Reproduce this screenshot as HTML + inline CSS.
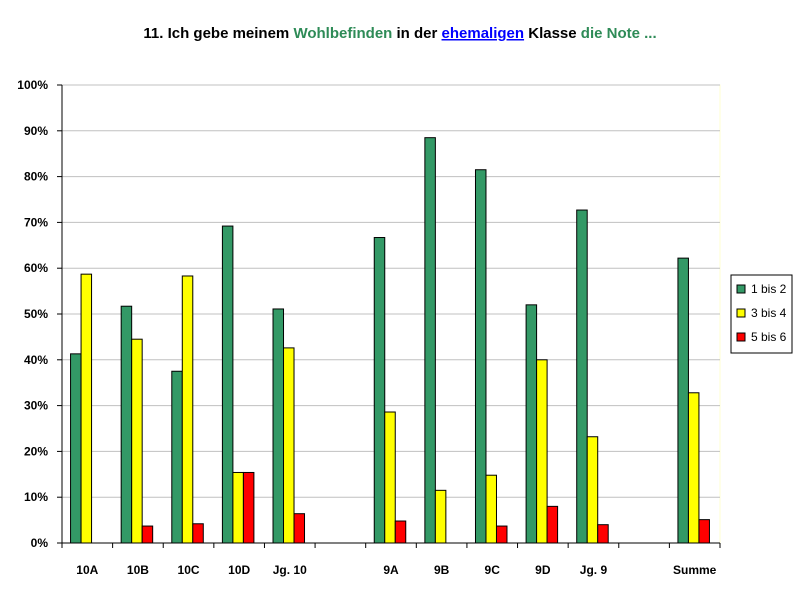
<!DOCTYPE html>
<html><head><meta charset="utf-8"><style>
body{margin:0;background:#fff;}
svg text{font-family:"Liberation Sans",Arial,sans-serif;font-weight:bold;}
</style></head><body>
<svg id="chart" width="800" height="600" xmlns="http://www.w3.org/2000/svg">
<text x="400" y="38" text-anchor="middle" font-size="15"><tspan fill="#000">11. Ich gebe meinem </tspan><tspan fill="#2e8b57">Wohlbefinden</tspan><tspan fill="#000"> in der </tspan><tspan fill="#0000ff" text-decoration="underline">ehemaligen</tspan><tspan fill="#000"> Klasse </tspan><tspan fill="#2e8b57">die Note ...</tspan></text>
<rect x="62" y="85" width="658" height="458" fill="#fff" stroke="#ffffd0"/>
<g id="grid"></g><g id="bars"></g><g id="axes"></g>
<g>
<rect x="731" y="275" width="61" height="78" fill="#fff" stroke="#000"/>
<rect x="737" y="285" width="8" height="8" fill="#339966" stroke="#000"/>
<text x="751" y="293" font-size="12" font-weight="normal" style="font-weight:normal">1 bis 2</text>
<rect x="737" y="309" width="8" height="8" fill="#ffff00" stroke="#000"/>
<text x="751" y="317" font-size="12" style="font-weight:normal">3 bis 4</text>
<rect x="737" y="333" width="8" height="8" fill="#ff0000" stroke="#000"/>
<text x="751" y="341" font-size="12" style="font-weight:normal">5 bis 6</text>
</g>
</svg>
<script>
const categories=["10A","10B","10C","10D","Jg. 10","","9A","9B","9C","9D","Jg. 9","","Summe"];
const s12=[41.3,51.7,37.5,69.2,51.1,null,66.7,88.5,81.5,52.0,72.7,null,62.2];
const s34=[58.7,44.5,58.3,15.4,42.6,null,28.6,11.5,14.8,40.0,23.2,null,32.8];
const s56=[0,3.7,4.2,15.4,6.4,null,4.8,0,3.7,8.0,4.0,null,5.1];
const yTicks=[0,10,20,30,40,50,60,70,80,90,100];
const NS="http://www.w3.org/2000/svg";
const X0=62,X1=720,Y0=543,Y1=85;
const cw=(X1-X0)/categories.length;
const y=v=>Y0-(v/100)*(Y0-Y1);
const xc=i=>X0+i*cw;
function mk(tag,attrs,parent){const e=document.createElementNS(NS,tag);for(const k in attrs)e.setAttribute(k,attrs[k]);parent.appendChild(e);return e;}
const grid=document.getElementById('grid'),bars=document.getElementById('bars'),axes=document.getElementById('axes');
yTicks.forEach(t=>{
  if(t>0){const l=mk('line',{x1:X0,x2:X1,y1:y(t),y2:y(t),stroke:'#c0c0c0'},grid);
  
  }
  const tk=mk('line',{x1:X0-5,x2:X0,y1:y(t),y2:y(t),stroke:'#000'},axes);
  
  
  const tx=mk('text',{x:X0-14,y:y(t)+4,'text-anchor':'end','font-size':'12'},axes);
  tx.textContent=t+'%';
  
  
});
mk('line',{x1:X0,x2:X0,y1:Y1,y2:Y0,stroke:'#000'},axes);
mk('line',{x1:X0,x2:X1,y1:Y0,y2:Y0,stroke:'#000'},axes);
const series=[[s12,'#339966','1-2'],[s34,'#ffff00','3-4'],[s56,'#ff0000','5-6']];
const bw=10.5,off=(cw-3*bw)/2-1;
categories.forEach((c,i)=>{
  series.forEach(([arr,col,nm],j)=>{
    const v=arr[i];
    if(v===null||v===undefined||v<=0)return;
    const r=mk('rect',{x:xc(i)+off+j*bw,y:y(v),width:bw,height:Y0-y(v),fill:col,stroke:'#000','stroke-width':1},bars);
    
    
  });
  const tk=mk('line',{x1:xc(i),x2:xc(i),y1:Y0,y2:Y0+5,stroke:'#000'},axes);
  
  
  if(c){const t=mk('text',{x:xc(i)+cw/2,y:Y0+31,'text-anchor':'middle','font-size':'12'},axes);
  t.textContent=c;
  
  }
});
const lt=mk('line',{x1:X1,x2:X1,y1:Y0,y2:Y0+5,stroke:'#000'},axes);


</script>
</body></html>
